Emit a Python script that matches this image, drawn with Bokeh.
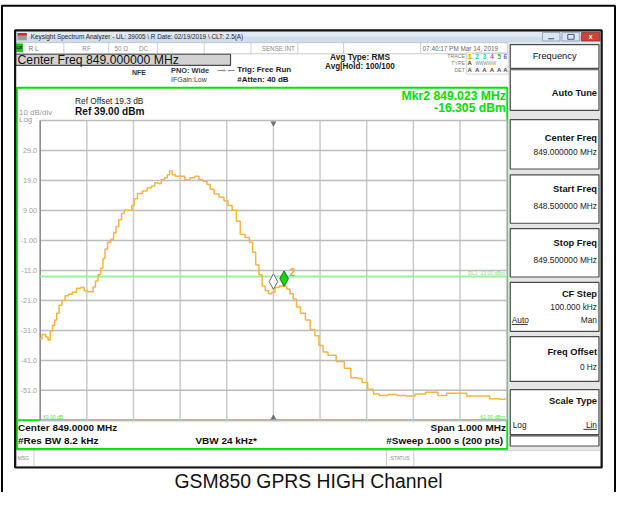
from bokeh.plotting import figure
from bokeh.models import Range1d
from bokeh.core.properties import value
from bokeh.embed import file_html
from bokeh.resources import INLINE

# ---------------- data ----------------
freq_mhz = [
    848.500, 848.508, 848.515, 848.519, 848.524, 848.529, 848.533, 848.538, 848.543, 848.550,
    848.557, 848.564, 848.574, 848.582, 848.592, 848.597, 848.606, 848.611, 848.616, 848.621,
    848.627, 848.632, 848.637, 848.641, 848.648, 848.655, 848.660, 848.665, 848.672, 848.677,
    848.683, 848.693, 848.700, 848.703, 848.714, 848.724, 848.735, 848.742, 848.749, 848.756,
    848.763, 848.770, 848.775, 848.780, 848.786, 848.794, 848.804, 848.816, 848.826, 848.837,
    848.844, 848.854, 848.861, 848.868, 848.878, 848.889, 848.899, 848.906, 848.917, 848.924,
    848.934, 848.945, 848.952, 848.959, 848.965, 848.973, 848.979, 848.986, 848.993, 849.000,
    849.007, 849.018, 849.025, 849.032, 849.039, 849.046, 849.053, 849.063, 849.074, 849.084,
    849.094, 849.101, 849.112, 849.122, 849.147, 849.157, 849.175, 849.185, 849.195, 849.209,
    849.220, 849.234, 849.258, 849.272, 849.297, 849.310, 849.342, 849.363, 849.380, 849.404,
    849.425, 849.453, 849.474, 849.495, 849.500,
]
level_dbm = [
    -33.8, -32.4, -33.2, -34.2, -31.2, -29.3, -27.5, -25.3, -22.6, -21.0,
    -19.4, -18.9, -18.3, -16.9, -16.7, -17.8, -18.1, -18.1, -16.5, -14.5,
    -12.4, -10.3, -7.0, -3.8, -1.6, -0.6, 1.6, 3.7, 5.9, 8.0,
    9.1, 9.1, 10.7, 12.9, 14.7, 15.5, 16.6, 17.2, 18.3, 18.0,
    19.3, 19.9, 20.9, 22.2, 20.9, 20.4, 20.4, 19.3, 19.9, 20.4,
    19.3, 18.8, 17.7, 16.1, 14.5, 13.4, 12.3, 10.7, 9.1, 5.4,
    1.0, 0.0, -1.6, -4.9, -9.2, -12.4, -16.2, -17.8, -18.8, -18.3,
    -16.7, -16.2, -16.3, -17.2, -18.8, -20.5, -23.2, -25.3, -27.5, -30.7,
    -32.8, -36.0, -38.2, -39.3, -41.4, -43.6, -46.8, -47.0, -48.4, -50.6,
    -52.2, -52.7, -52.4, -52.7, -52.9, -52.2, -51.6, -52.7, -52.0, -52.0,
    -52.9, -52.9, -53.8, -54.0, -53.8,
]
marker_freq = [849.000, 849.023]
marker_level = [-17.3, -16.305]
marker_fill = ["white", "#19d419"]
marker_line = ["#6a6a6a", "#0a7a0a"]
display_line_dbm = -13.0
ref_level = 39.0
db_per_div = 10.0
start_freq = 848.5
stop_freq = 849.5
center_freq = 849.0
ytick_values = [29, 19, 9, -1, -11, -21, -31, -41, -51]
ytick_labels = ["29.0", "19.0", "9.00", "-1.00", "-11.0", "-21.0", "-31.0", "-41.0", "-51.0"]

# ---------------- layout ----------------
W, H = 632, 508
FW, FH = 616, 492
FS = FH / H
FONT = "Liberation Sans"

GX0, GX1 = 40.7, 519.3
GY0, GY1 = 124.0, 433.5
px_per_mhz = (GX1 - GX0) / (stop_freq - start_freq)
px_per_db = (GY1 - GY0) / (10 * db_per_div)

p = figure(width=FW, height=FH, x_range=Range1d(0, W), y_range=Range1d(H, 0),
           output_backend="svg", toolbar_location=None, min_border=0,
           x_axis_location=None, y_axis_location=None)
p.grid.visible = False
p.outline_line_color = None
p.background_fill_color = "white"
p.border_fill_color = "white"
p.extra_x_ranges = {"freq": Range1d(start_freq - GX0 / px_per_mhz,
                                    start_freq + (W - GX0) / px_per_mhz)}
p.extra_y_ranges = {"dbm": Range1d(ref_level - (H - GY0) / px_per_db,
                                   ref_level + GY0 / px_per_db)}


def T(x, y, s, size, color="#000000", bold=False, align="left", font=FONT, **kw):
    p.text(x=[x], y=[y], text=[s], text_font=value(font),
           text_font_size=value(f"{size * FS:.2f}px"),
           text_font_style=("bold" if bold else "normal"), text_color=color,
           text_align=align, text_baseline="middle", **kw)


def R(x0, y0, x1, y1, fill=None, line=None, lw=1.0):
    p.quad(left=[x0], right=[x1], top=[y0], bottom=[y1], fill_color=fill,
           line_color=line, line_width=lw)


def L(x0, y0, x1, y1, color, lw=1.0, **kw):
    p.segment(x0=[x0], y0=[y0], x1=[x1], y1=[y1], line_color=color, line_width=lw, **kw)


# outer frame
R(1.5, 5.5, 630.5, 530, None, "#000000", 2)

# window background
R(15, 31, 616.5, 482, "#ffffff", None)

# title bar
R(16, 31.5, 616, 37, "#e2ebf5", None)
R(16, 37, 616, 43.5, "#cfdcec", None)
R(17.5, 33.5, 27, 41, "#9c9c9c", None)
R(17.5, 33.5, 27, 36.2, "#cc2a2a", None)
T(31, 37.4, r"Keysight Spectrum Analyzer - UL: 39005 \ R Date: 02/19/2019 \ CLT: 2.5(A)", 6.6, "#1e1e1e")
R(556, 33, 574, 41.8, "#dbe5f1", "#8798ad", 0.8)
R(576, 33, 594, 41.8, "#dbe5f1", "#8798ad", 0.8)
R(596, 33, 615, 41.8, "#c9453a", "#8a3028", 0.8)
L(562, 39.5, 568, 39.5, "#3a4a60", 1.2)
R(582, 35, 588.5, 40, None, "#3a4a60", 0.9)
T(605.5, 37.5, "x", 7, "#ffffff", bold=True, align="center")

# status row
R(16, 43.5, 520, 55, "#ffffff", "#bdbdbd", 0.8)
for sx in [65, 111, 161, 209, 257, 305, 352, 431]:
    L(sx, 43.5, sx, 55, "#c4c4c4", 0.8)
R(16, 44.5, 23, 53.5, "#11c811", None)
T(19.5, 49.2, "LXI", 3.6, "#000000", bold=True, align="center")
T(29, 49.3, "R L", 6.5, "#707070")
T(84, 49.3, "RF", 6.5, "#8a8a8a")
T(117, 49.3, "50 Ω", 6.5, "#8a8a8a")
T(142, 49.3, "DC", 6.5, "#8a8a8a")
T(268, 49.3, "SENSE:INT", 6.5, "#8a8a8a")
T(433, 49.3, "07:40:17 PM Mar 14, 2019", 6.6, "#666666")

# center freq box
R(15.5, 55.5, 236, 67, "#d2d2d2", "#4a4a4a", 1.2)
T(17.5, 61.6, "Center Freq 849.000000 MHz", 12.6, "#111111")

# header texts
T(135, 74.5, "NFE", 7.2, "#333333", bold=True)
T(175, 72.5, "PNO: Wide", 7.6, "#333333", bold=True)
T(222, 71.8, "⟶⊢⟵", 5, "#333333", font="DejaVu Sans")
T(175, 81.5, "IFGain:Low", 7.2, "#333333")
T(243, 71.5, "Trig: Free Run", 8.2, "#1a1a1a", bold=True)
T(243, 81.5, "#Atten: 40 dB", 8.2, "#1a1a1a", bold=True)
T(338, 58, "Avg Type: RMS", 8.6, "#1a1a1a", bold=True)
T(333, 68.5, "Avg|Hold: 100/100", 8.4, "#1a1a1a", bold=True)

# trace table
T(476.5, 57.5, "TRACE", 5.4, "#7a7a7a", align="right")
T(476.5, 64.5, "TYPE", 5.4, "#7a7a7a", align="right")
T(476.5, 71.5, "DET", 5.4, "#7a7a7a", align="right")
R(478, 54, 521, 76, None, "#c8c8c8", 0.8)
R(478.8, 54, 484, 61, "#ffff70", None)
tnum_x = [481.4, 489, 496.6, 504.2, 511.6, 518.0]
tnum_c = ["#e69500", "#16c0e0", "#10cfa0", "#e040d8", "#38c038", "#7050f0"]
for i, (tx, tc) in enumerate(zip(tnum_x, tnum_c)):
    T(tx, 57.8, str(i + 1), 6.6, tc, bold=True, align="center")
T(481.4, 64.6, "A", 6.2, "#333333", bold=True, align="center")
T(487, 64.6, "WWWWW", 4.6, "#8a8a8a")
for tx in tnum_x:
    T(tx, 71.6, "A", 6.2, "#444444", bold=True, align="center")

# green frame
R(16.8, 90, 520, 463.2, None, "#00e600", 2)
L(16.8, 433.4, 520, 433.4, "#00e600", 1.8)

# ref / scale texts
T(76.5, 103.3, "Ref Offset 19.3 dB", 8.6, "#1a1a1a")
T(76.5, 114.5, "Ref 39.00 dBm", 10.4, "#111111", bold=True)
T(19, 115.6, "10 dB/div", 8.2, "#9a9a9a")
T(19, 123, "Log", 8.2, "#9a9a9a")
T(518.5, 98.4, "Mkr2 849.023 MHz", 12.6, "#00e000", bold=True, align="right")
T(518.5, 110.6, "-16.305 dBm", 12.6, "#00e000", bold=True, align="right")

# grid (through the freq / dBm scales)
vx = [start_freq + i * (stop_freq - start_freq) / 10 for i in range(11)]
hy = [ref_level - i * db_per_div for i in range(11)]
bottom_level = ref_level - 10 * db_per_div
p.segment(x0=vx[1:], y0=[bottom_level] * 10, x1=vx[1:], y1=[ref_level] * 10,
          line_color="#cacaca", line_width=1.5, x_range_name="freq", y_range_name="dbm")
p.segment(x0=[start_freq] * 11, y0=hy, x1=[stop_freq] * 11, y1=hy,
          line_color="#bcbcbc", line_width=1.5, x_range_name="freq", y_range_name="dbm")
p.segment(x0=[start_freq], y0=[bottom_level], x1=[start_freq], y1=[ref_level],
          line_color="#8c8c8c", line_width=1.6, x_range_name="freq", y_range_name="dbm")

# y tick labels
p.text(x=[37.5] * len(ytick_values), y=ytick_values, text=ytick_labels,
       text_font=value(FONT), text_font_size=value(f"{7.4 * FS:.2f}px"),
       text_color="#a0a0a0", text_align="right", text_baseline="middle",
       y_range_name="dbm")

# center markers (triangles)
p.scatter(x=[center_freq], y=[ref_level - 0.9], marker="inverted_triangle", size=6,
          fill_color="#707070", line_color=None, x_range_name="freq", y_range_name="dbm")
p.scatter(x=[center_freq], y=[bottom_level + 0.9], marker="triangle", size=6,
          fill_color="#707070", line_color=None, x_range_name="freq", y_range_name="dbm")

# display line
p.segment(x0=[start_freq], y0=[display_line_dbm], x1=[stop_freq], y1=[display_line_dbm],
          line_color="#9cf09c", line_width=2, x_range_name="freq", y_range_name="dbm")
T(517.5, 281, "DL1 -13.00 dBm", 5.2, "#7fe07f", align="right")
T(517.5, 429.8, "-61.00 dBm", 5.2, "#55dd55", align="right")
T(43, 430, "X0.00 dB", 5.2, "#55dd55")

# trace (stepped, as drawn by the analyzer)
p.step(x=freq_mhz, y=level_dbm, mode="center", line_color="#f6b443", line_width=1.5,
       x_range_name="freq", y_range_name="dbm")

# markers (diamonds sitting on the trace)
hw = 4.4 / px_per_mhz
hh = 16.0 / px_per_db
xs = [[f, f + hw, f, f - hw] for f in marker_freq]
ys = [[lv, lv + hh / 2, lv + hh, lv + hh / 2] for lv in marker_level]
p.patches(xs=xs, ys=ys, fill_color=marker_fill, line_color=marker_line, line_width=1,
          x_range_name="freq", y_range_name="dbm")
p.text(x=[marker_freq[1]], y=[marker_level[1]], text=["2"], x_offset=5.5, y_offset=-14,
       text_font=value(FONT), text_font_size=value(f"{10.5 * FS:.2f}px"),
       text_font_style="bold", text_color="#f5a623", text_baseline="middle",
       x_range_name="freq", y_range_name="dbm")

# bottom texts
T(18, 441, "Center 849.0000 MHz", 10.3, "#111111", bold=True)
T(18, 454.3, "#Res BW 8.2 kHz", 10.3, "#111111", bold=True)
T(200, 454.3, "VBW 24 kHz*", 10.3, "#111111", bold=True)
T(518.5, 441, "Span 1.000 MHz", 10.3, "#111111", bold=True, align="right")
T(518.5, 454.3, "#Sweep  1.000 s (200 pts)", 10.3, "#111111", bold=True, align="right")

# right panel
R(521, 43.5, 616, 463.5, "#e4e4e4", None)
panel = [
    (45.5, 70), (71.5, 113.5), (123, 174), (180, 230), (235.5, 285.5),
    (291, 341.7), (347, 393.3), (401.7, 448.3), (449.5, 460),
]
for (y0, y1) in panel:
    R(523, y0, 614, y1, "#ffffff", "#4c4c4c", 1.2)
T(568.5, 57.5, "Frequency", 9.6, "#111111", align="center")
T(612, 95, "Auto Tune", 9.6, "#111111", bold=True, align="right")
T(612, 141.5, "Center Freq", 9.6, "#111111", bold=True, align="right")
T(612, 156, "849.000000 MHz", 8.6, "#222222", align="right")
T(612, 195, "Start Freq", 9.6, "#111111", bold=True, align="right")
T(612, 212, "848.500000 MHz", 8.6, "#222222", align="right")
T(612, 250.5, "Stop Freq", 9.6, "#111111", bold=True, align="right")
T(612, 267.5, "849.500000 MHz", 8.6, "#222222", align="right")
T(612, 303, "CF Step", 9.6, "#111111", bold=True, align="right")
T(612, 316.7, "100.000 kHz", 8.6, "#222222", align="right")
T(524.5, 330, "Auto", 8.6, "#222222")
L(524.5, 334.5, 541, 334.5, "#222222", 0.9)
T(612, 330, "Man", 8.6, "#222222", align="right")
T(612, 363.3, "Freq Offset", 9.6, "#111111", bold=True, align="right")
T(612, 378.3, "0 Hz", 8.6, "#222222", align="right")
T(612, 414, "Scale Type", 9.6, "#111111", bold=True, align="right")
T(525.5, 438.3, "Log", 8.6, "#222222")
T(612, 438.3, "Lin", 8.6, "#222222", align="right")
L(598, 442.8, 612, 442.8, "#222222", 0.9)

# message bar
R(16, 464.5, 616, 481, "#ffffff", "#c0c0c0", 0.8)
L(34.3, 464.5, 34.3, 481, "#c0c0c0", 0.8)
L(396, 464.5, 396, 481, "#c0c0c0", 0.8)
L(424, 464.5, 424, 481, "#c0c0c0", 0.8)
T(17.5, 472, "MSG", 5.2, "#8a8a8a")
T(410, 472.7, "STATUS", 5.2, "#8a8a8a", align="center")

# window border
R(15, 30.8, 616.8, 482.2, None, "#141414", 2.2)

# caption
T(316, 496, "GSM850 GPRS HIGH Channel", 20, "#111111", align="center")

open("out.html", "w").write(file_html(p, INLINE))
